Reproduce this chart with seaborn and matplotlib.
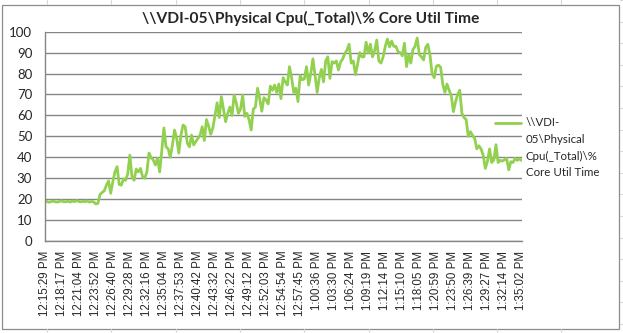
import matplotlib
matplotlib.use("Agg")
import matplotlib.pyplot as plt
from matplotlib.lines import Line2D
from matplotlib.patches import Rectangle
import numpy as np
import pandas as pd
import seaborn as sns

title = "\\\\VDI-05\\Physical Cpu(_Total)\\% Core Util Time"
series_name = "\\\\VDI-05\\Physical Cpu(_Total)\\% Core Util Time"
legend_lines = ["\\\\VDI-", "05\\Physical", "Cpu(_Total)\\%", "Core Util Time"]

tick_labels = [
    "12:15:29 PM", "12:18:17 PM", "12:21:04 PM", "12:23:52 PM", "12:26:40 PM",
    "12:29:28 PM", "12:32:16 PM", "12:35:04 PM", "12:37:53 PM", "12:40:42 PM",
    "12:43:32 PM", "12:46:22 PM", "12:49:12 PM", "12:52:03 PM", "12:54:54 PM",
    "12:57:45 PM", "1:00:36 PM", "1:03:30 PM", "1:06:24 PM", "1:09:19 PM",
    "1:12:14 PM", "1:15:10 PM", "1:18:05 PM", "1:20:59 PM", "1:23:50 PM",
    "1:26:39 PM", "1:29:27 PM", "1:32:14 PM", "1:35:02 PM",
]
label_every = 8

cpu_flat = [18.6, 18.9, 18.5, 18.8, 19.1, 18.7, 18.6, 18.9, 19.2, 18.7, 18.8, 19.0,
            18.6, 19.1, 18.8, 19.3, 18.9, 18.7, 19.0, 18.8, 19.1, 18.6, 18.9, 18.7]
cpu_rise = [17.7, 18.0, 22.3, 23.2, 24.0, 26.7, 28.7, 22.8, 28.3, 33.0, 35.5, 27.0,
            26.7, 29.6, 29.0, 32.0, 41.0, 30.7, 29.0, 34.4, 33.0, 34.7, 30.7, 30.0,
            33.0, 42.0, 39.8, 38.7, 36.3, 39.5, 33.0, 43.0, 54.0, 45.0, 44.0, 40.0,
            45.9, 53.0, 49.0, 42.0, 50.6, 55.4, 54.6, 46.7, 45.0, 50.6, 45.9, 47.5,
            49.0, 50.6, 54.6]
cpu_climb = [48.0, 58.0, 55.0, 51.0, 54.0, 60.0, 66.0, 59.0, 69.0, 63.0, 57.0, 61.0,
             64.0, 60.0, 69.7, 66.0, 61.0, 63.0, 69.7, 59.5, 61.0, 58.0, 53.0, 63.0,
             64.0, 73.0, 68.0, 62.0, 68.5, 67.4, 65.5, 74.0, 72.0, 74.5, 71.0, 75.0,
             68.0, 78.0, 76.0, 74.5, 83.3, 78.0, 71.0, 73.0, 66.6, 79.0, 77.0, 77.5,
             83.3, 74.5, 80.0, 87.0, 79.3, 71.0, 78.0, 82.0, 76.0, 86.0, 88.0, 77.7,
             85.7, 85.0, 86.0, 81.7, 85.5, 87.0, 89.6, 91.2, 94.0, 85.0, 86.0, 79.5,
             84.5, 90.0, 88.0]
cpu_peak_fall = [88.0, 95.0, 90.0, 94.0, 88.0, 91.0, 96.0, 86.0, 85.0, 88.0, 93.0,
                 96.5, 92.8, 95.5, 93.0, 93.0, 90.4, 90.0, 88.5, 94.5, 83.3, 89.0,
                 85.0, 91.5, 93.0, 97.0, 89.0, 88.0, 86.5, 92.5, 94.0, 89.0, 80.0,
                 78.0, 83.5, 84.0, 83.0, 75.0, 71.0, 75.0, 72.0, 69.5, 61.8, 66.5,
                 70.0, 72.0, 61.0, 59.0, 58.0, 50.0, 52.2, 50.5, 49.0, 44.0, 45.5,
                 44.0, 41.0, 34.7, 38.0, 44.0, 37.5, 38.7, 46.0, 37.5, 38.5, 38.2,
                 38.8, 39.5, 34.0, 37.9, 37.5, 39.5, 38.5, 39.3, 38.5]

values = cpu_flat + cpu_rise + cpu_climb + cpu_peak_fall
idx = list(range(len(values)))
df = pd.DataFrame({"i": idx, "v": values})

sns.set_style("white")
plt.rcParams["font.family"] = ["Lato", "DejaVu Sans"]

GREEN = "#92D050"
GRID = "#868686"

fig = plt.figure(figsize=(6.23, 3.33), dpi=100)
W, H = 623.0, 333.0

# chart frame and surrounding sheet cells
for xc in np.arange(47, 623, 64.3):
    fig.add_artist(Line2D([xc / W, xc / W], [1, 1 - 4 / H], color="#d9d9d9", lw=0.8))
    fig.add_artist(Line2D([xc / W, xc / W], [0, 1 - 329 / H], color="#d9d9d9", lw=0.8))
for yc in np.arange(0, 333, 21.6):
    fig.add_artist(Line2D([620 / W, 1], [1 - yc / H, 1 - yc / H], color="#d9d9d9", lw=0.8))
fig.add_artist(Rectangle((2.5 / W, 1 - 328.5 / H), 616.5 / W, 324 / H,
                         fill=False, ec="#8c8c8c", lw=0.9))

ax = fig.add_axes([44.7 / W, 1 - 241 / H, (521.5 - 44.7) / W, (241 - 31.7) / H])
sns.lineplot(data=df, x="i", y="v", ax=ax, color=GREEN, lw=2.0, legend=False)

ax.set_xlim(0, len(values) - 1)
ax.set_ylim(0, 100)
ax.set_yticks(range(0, 101, 10))
ax.yaxis.grid(True, color=GRID, lw=1.0)
ax.xaxis.grid(False)
ax.set_xlabel("")
ax.set_ylabel("")
for s in ["top", "right"]:
    ax.spines[s].set_visible(False)
for s in ["left", "bottom"]:
    ax.spines[s].set_color(GRID)
    ax.spines[s].set_linewidth(1.0)

major = list(range(0, len(values), label_every))
ax.set_xticks(major)
ax.set_xticklabels(tick_labels, rotation=90, fontsize=8.3,
                   family=["Liberation Sans", "DejaVu Sans"])
ax.set_xticks(idx, minor=True)
ax.tick_params(axis="x", which="both", length=4, width=1, color=GRID, pad=3)
ax.tick_params(axis="y", length=3, width=1, color=GRID, labelsize=9.5, pad=6)

fig.text(311 / W, 1 - 18 / H, title, ha="center", va="center",
         fontsize=11.2, fontweight="bold")

# legend (key + wrapped label)
fig.add_artist(Line2D([495 / W, 521 / W], [1 - 122.7 / H, 1 - 122.7 / H],
                      color=GREEN, lw=2.0))
for k, line in enumerate(legend_lines):
    fig.text(526 / W, 1 - (122.7 + 16.7 * k) / H, line, ha="left", va="center",
             fontsize=8.3)

fig.savefig("out.png", dpi=100, facecolor="white")
